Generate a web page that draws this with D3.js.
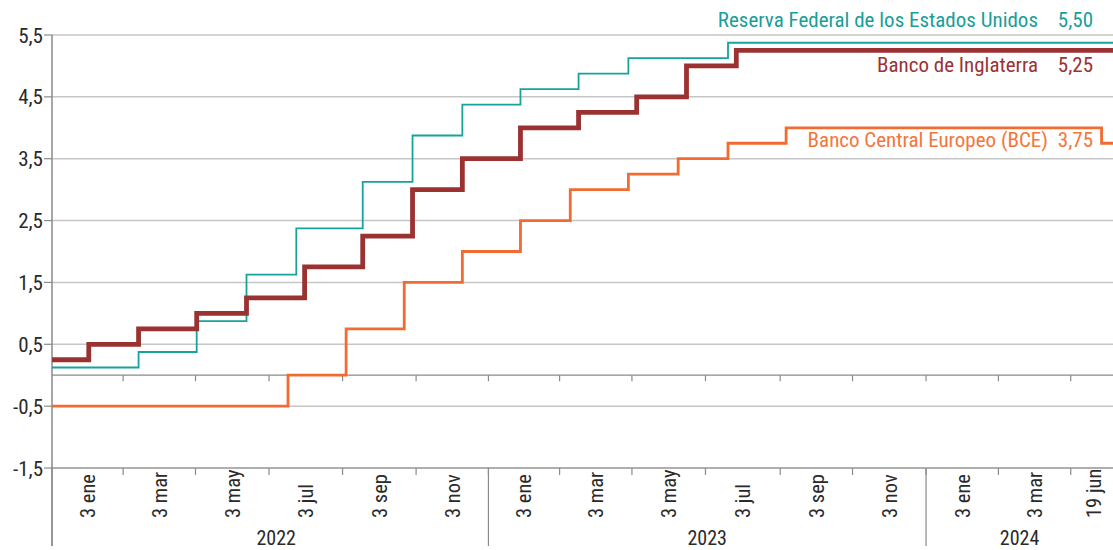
<!DOCTYPE html>
<html>
<head>
<meta charset="utf-8">
<script src="https://cdn.jsdelivr.net/npm/d3@7"></script>
<style>
  html, body { margin: 0; padding: 0; background: #fff; }
  svg { display: block; }
  text { font-family: 'Liberation Sans Narrow', 'Roboto Condensed', 'DejaVu Sans Condensed', 'Liberation Sans', sans-serif; }
</style>
</head>
<body>
<svg id="chart" width="1113" height="550"></svg>
<script>
// ---- Data ----
const fedDates  = ["2022-01-03","2022-03-17","2022-05-05","2022-06-16","2022-07-28","2022-09-22","2022-11-03","2022-12-15","2023-02-02","2023-03-23","2023-05-04","2023-07-27","2024-06-19"];
const fedValues = [0.125,0.375,0.875,1.625,2.375,3.125,3.875,4.375,4.625,4.875,5.125,5.375,5.375];

const boeDates  = ["2022-01-03","2022-02-03","2022-03-17","2022-05-05","2022-06-16","2022-08-04","2022-09-22","2022-11-03","2022-12-15","2023-02-02","2023-03-23","2023-05-11","2023-06-22","2023-08-03","2024-06-19"];
const boeValues = [0.25,0.5,0.75,1.0,1.25,1.75,2.25,3.0,3.5,4.0,4.25,4.5,5.0,5.25,5.25];

const ecbDates  = ["2022-01-03","2022-07-21","2022-09-08","2022-10-27","2022-12-15","2023-02-02","2023-03-16","2023-05-04","2023-06-15","2023-07-27","2023-09-14","2024-06-06","2024-06-19"];
const ecbValues = [-0.5,0,0.75,1.5,2.0,2.5,3.0,3.25,3.5,3.75,4.0,3.75,3.75];

const seriesNames  = ["Reserva Federal de los Estados Unidos","Banco de Inglaterra","Banco Central Europeo (BCE)"];
const seriesLabels = ["5,50","5,25","3,75"];

const yTicks = [-1.5,-0.5,0.5,1.5,2.5,3.5,4.5,5.5];
const tickBoundaries = ["2022-01-03","2022-03-04","2022-05-04","2022-07-05","2022-09-05","2022-11-06","2023-01-06","2023-03-07","2023-05-07","2023-07-08","2023-09-09","2023-11-09","2024-01-10","2024-03-11","2024-05-11","2024-06-19"];
const tickLabels = ["3 ene","3 mar","3 may","3 jul","3 sep","3 nov","3 ene","3 mar","3 may","3 jul","3 sep","3 nov","3 ene","3 mar","19 jun"];
const yearBoundaries = ["2022-01-03","2023-01-06","2024-01-10","2024-06-19"];
const yearLabels = ["2022","2023","2024"];

// ---- Setup ----
const parse = d3.timeParse("%Y-%m-%d");
const svg = d3.select("#chart");
const mLeft = 52, mRight = 1117, mTop = 35, mBottom = 468, W = 1113;

const x = d3.scaleTime()
  .domain([parse("2022-01-03"), parse("2024-06-19")])
  .range([mLeft, mRight]);
const y = d3.scaleLinear().domain([-1.5, 5.5]).range([mBottom, mTop]);

const gridColor = "#c6c6c6";
const axisColor = "#8a8a8a";
const textColor = "#2a2a2a";

// gridlines
svg.append("g").selectAll("line").data(yTicks).join("line")
  .attr("x1", mLeft).attr("x2", W)
  .attr("y1", d => y(d)).attr("y2", d => y(d))
  .attr("stroke", gridColor).attr("stroke-width", 1.5);

// zero line
svg.append("line")
  .attr("x1", mLeft).attr("x2", W)
  .attr("y1", y(0)).attr("y2", y(0))
  .attr("stroke", axisColor).attr("stroke-width", 1.2);

// ticks under zero line
svg.append("g").selectAll("line").data(tickBoundaries.slice(1, -1)).join("line")
  .attr("x1", d => x(parse(d))).attr("x2", d => x(parse(d)))
  .attr("y1", y(0)).attr("y2", y(0) + 6)
  .attr("stroke", axisColor).attr("stroke-width", 1.2);

// bottom axis line (at -1.5)
svg.append("line")
  .attr("x1", mLeft).attr("x2", W)
  .attr("y1", mBottom).attr("y2", mBottom)
  .attr("stroke", axisColor).attr("stroke-width", 1.2);

// bottom ticks
svg.append("g").selectAll("line").data(tickBoundaries.slice(1, -1)).join("line")
  .attr("x1", d => x(parse(d))).attr("x2", d => x(parse(d)))
  .attr("y1", mBottom).attr("y2", mBottom + 7)
  .attr("stroke", axisColor).attr("stroke-width", 1.2);

// year separators
svg.append("g").selectAll("line").data(yearBoundaries.slice(0, -1)).join("line")
  .attr("x1", d => x(parse(d))).attr("x2", d => x(parse(d)))
  .attr("y1", mBottom).attr("y2", 546)
  .attr("stroke", axisColor).attr("stroke-width", 1.2);

// left axis
svg.append("line")
  .attr("x1", mLeft).attr("x2", mLeft)
  .attr("y1", mTop).attr("y2", 546)
  .attr("stroke", axisColor).attr("stroke-width", 1.5);

// y ticks + labels
svg.append("g").selectAll("line").data(yTicks).join("line")
  .attr("x1", mLeft - 8).attr("x2", mLeft)
  .attr("y1", d => y(d)).attr("y2", d => y(d))
  .attr("stroke", axisColor).attr("stroke-width", 1.2);
svg.append("g").selectAll("text").data(yTicks).join("text")
  .attr("x", mLeft - 9).attr("y", d => y(d))
  .attr("dy", "0.36em")
  .attr("text-anchor", "end")
  .attr("font-size", 21)
  .attr("fill", textColor)
  .text(d => d3.format(".1f")(d).replace(".", ",").replace("−", "-"));

// x tick labels (rotated)
svg.append("g").selectAll("text").data(tickLabels).join("text")
  .attr("transform", (d, i) => {
    const cx = (x(parse(tickBoundaries[i])) + x(parse(tickBoundaries[i + 1]))) / 2;
    return `translate(${cx},518) rotate(-90)`;
  })
  .attr("dy", "0.36em")
  .attr("text-anchor", "start")
  .attr("font-size", 20.5)
  .attr("fill", textColor)
  .text(d => d);

// year labels
svg.append("g").selectAll("text").data(yearLabels).join("text")
  .attr("x", (d, i) => (x(parse(yearBoundaries[i])) + Math.min(W, x(parse(yearBoundaries[i + 1])))) / 2 + (i === 0 ? 6 : 0))
  .attr("y", 545)
  .attr("text-anchor", "middle")
  .attr("font-size", 20)
  .attr("fill", textColor)
  .text(d => d);

// ---- Lines ----
const line = d3.line()
  .x(d => x(d.date)).y(d => y(d.value))
  .curve(d3.curveStepAfter);

const toPts = (dates, vals) => dates.map((d, i) => ({ date: parse(d), value: vals[i] }));

const series = [
  { pts: toPts(ecbDates, ecbValues), color: "#f26b32", width: 2.8 },
  { pts: toPts(fedDates, fedValues), color: "#17a29c", width: 1.8 },
  { pts: toPts(boeDates, boeValues), color: "#9b3232", width: 4.8 }
];

svg.append("g").selectAll("path").data(series).join("path")
  .attr("d", d => line(d.pts))
  .attr("fill", "none")
  .attr("stroke", d => d.color)
  .attr("stroke-width", d => d.width)
  .attr("stroke-linejoin", "miter");

// ---- Series labels ----
const labelColors = ["#1a9e98", "#9b3233", "#f4763a"];
const labelY = [27, 72, 147];
const nameEnd = [1038, 1038, 1048];
const valueEnd = 1093;

const lg = svg.append("g").attr("font-size", 21);
seriesNames.forEach((n, i) => {
  lg.append("text")
    .attr("x", nameEnd[i]).attr("y", labelY[i])
    .attr("text-anchor", "end")
    .attr("fill", labelColors[i])
    .text(n);
  lg.append("text")
    .attr("x", valueEnd).attr("y", labelY[i])
    .attr("text-anchor", "end")
    .attr("fill", labelColors[i])
    .text(seriesLabels[i]);
});
</script>
</body>
</html>
